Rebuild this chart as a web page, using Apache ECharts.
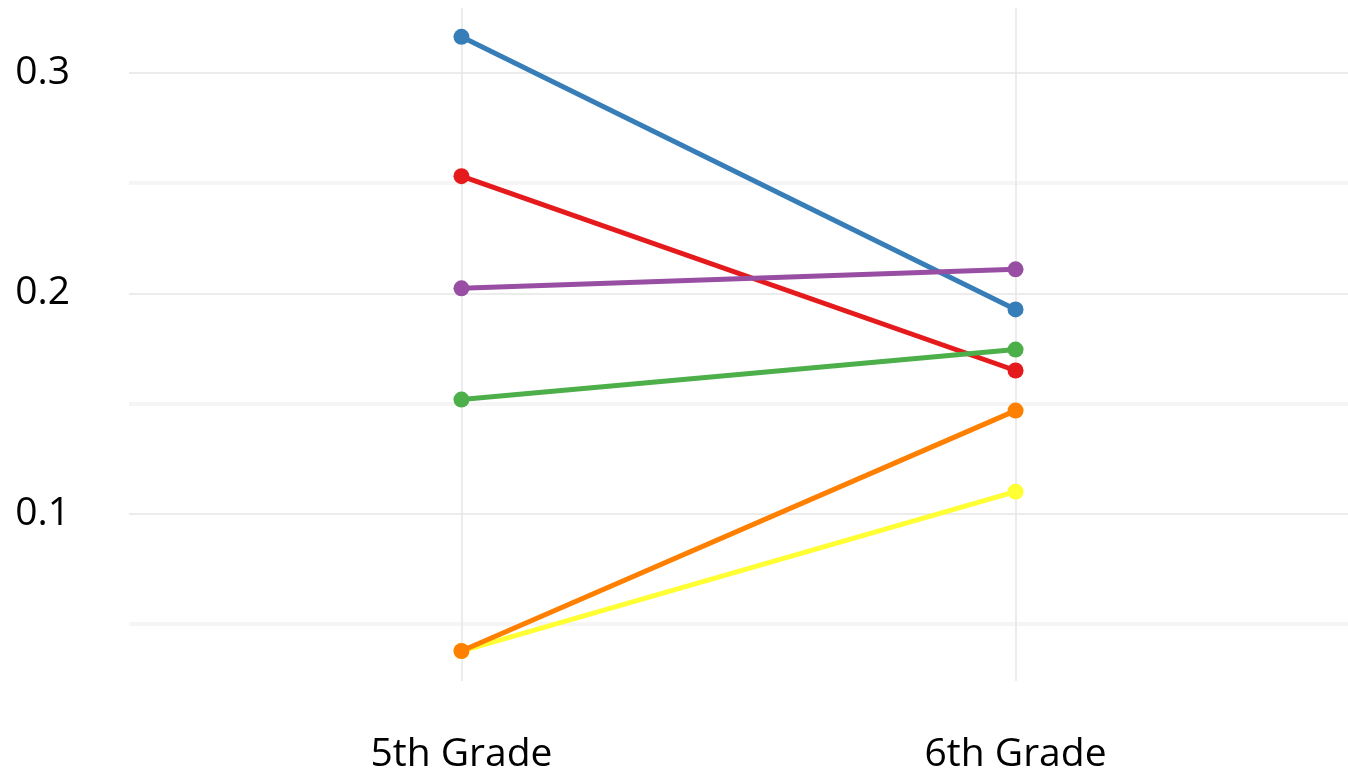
<!DOCTYPE html>
<html>
<head>
<meta charset="utf-8">
<script src="https://cdn.jsdelivr.net/npm/echarts@6/dist/echarts.min.js"></script>
<style>
html,body{margin:0;padding:0;background:#fff;}
#chart{width:1348px;height:774px;}
</style>
</head>
<body>
<div id="chart"></div>
<script>
// Data
var categories = ['5th Grade', '6th Grade'];
var yTickLabels = [0.1, 0.2, 0.3];
var majorGrid = [0.1, 0.2, 0.3];
var minorGrid = [0.05, 0.15, 0.25];

var blueValues   = [0.3164, 0.1927];
var redValues    = [0.2532, 0.1650];
var purpleValues = [0.2023, 0.2109];
var greenValues  = [0.1518, 0.1745];
var yellowValues = [0.0377, 0.1100];
var orangeValues = [0.0377, 0.1468];

var seriesDefs = [
  {name: 'A', color: '#377EB8', values: blueValues},
  {name: 'B', color: '#E41A1C', values: redValues},
  {name: 'C', color: '#984EA3', values: purpleValues},
  {name: 'D', color: '#4DAF4A', values: greenValues},
  {name: 'E', color: '#FFFF33', values: yellowValues},
  {name: 'F', color: '#FF7F00', values: orangeValues}
];

var FONT = 'Open Sans';
var chart = echarts.init(document.getElementById('chart'), null, {renderer: 'canvas'});

var series = [];
// gridline holder series
series.push({
  type: 'line',
  data: [],
  silent: true,
  z: 0,
  markLine: {
    silent: true,
    z: 0,
    symbol: ['none', 'none'],
    label: {show: false},
    emphasis: {disabled: true},
    animation: false,
    data: []
      .concat(minorGrid.map(function (v) { return {yAxis: v, lineStyle: {color: '#f5f5f5', width: 4, type: 'solid'}}; }))
      .concat(majorGrid.map(function (v) { return {yAxis: v, lineStyle: {color: '#e6e6e6', width: 1.5, type: 'solid'}}; }))
      .concat(categories.map(function (c, i) { return {xAxis: i + 1, lineStyle: {color: '#e6e6e6', width: 1.5, type: 'solid'}}; }))
  }
});

seriesDefs.forEach(function (s, k) {
  series.push({
    name: s.name,
    type: 'line',
    z: 2 + k,
    data: s.values.map(function (v, i) { return [i + 1, v]; }),
    symbol: 'circle',
    symbolSize: 16,
    showAllSymbol: true,
    lineStyle: {color: s.color, width: 5},
    itemStyle: {color: s.color, borderWidth: 0},
    emphasis: {disabled: true},
    animation: false
  });
});

chart.setOption({
  backgroundColor: '#ffffff',
  animation: false,
  grid: {left: 129, right: -5, top: 8, bottom: 93, containLabel: false},
  xAxis: {
    type: 'value',
    min: 0.4,
    max: 2.6,
    axisLine: {show: false},
    axisTick: {show: false},
    splitLine: {show: false},
    axisLabel: {
      customValues: categories.map(function (c, i) { return i + 1; }),
      margin: 54,
      color: '#000',
      fontFamily: FONT,
      fontSize: 39,
      formatter: function (v) {
        var idx = Math.round(v) - 1;
        if (Math.abs(v - Math.round(v)) < 1e-6 && idx >= 0 && idx < categories.length) return categories[idx];
        return '';
      }
    }
  },
  yAxis: {
    type: 'value',
    min: 0.0241,
    max: 0.3295,
    axisLine: {show: false},
    axisTick: {show: false},
    splitLine: {show: false},
    axisLabel: {
      customValues: yTickLabels,
      margin: 59,
      color: '#000',
      fontFamily: FONT,
      fontSize: 39,
      formatter: function (v) {
        for (var i = 0; i < yTickLabels.length; i++) {
          if (Math.abs(v - yTickLabels[i]) < 1e-6) return String(yTickLabels[i]);
        }
        return '';
      }
    }
  },
  series: series
});
</script>
</body>
</html>
